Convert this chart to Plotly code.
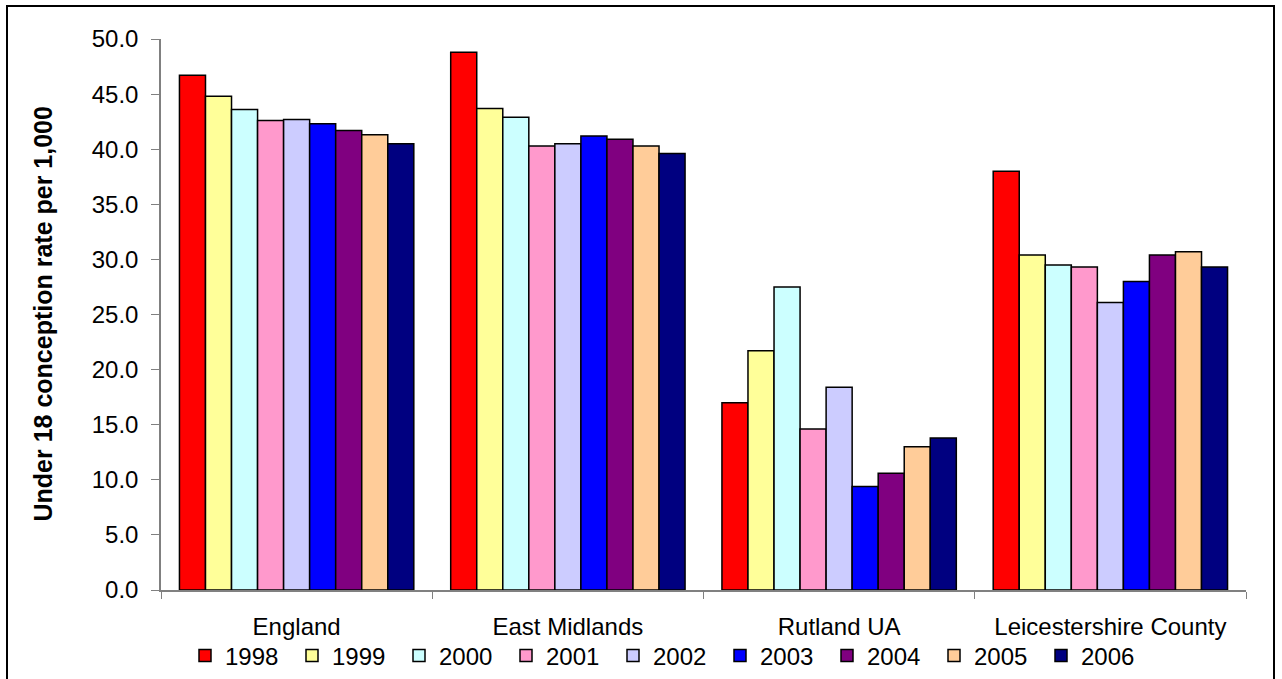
import plotly.graph_objects as go

categories = ["England", "East Midlands", "Rutland UA", "Leicestershire County"]
years = ["1998", "1999", "2000", "2001", "2002", "2003", "2004", "2005", "2006"]
rate_1998 = [46.7, 48.8, 17.0, 38.0]
rate_1999 = [44.8, 43.7, 21.7, 30.4]
rate_2000 = [43.6, 42.9, 27.5, 29.5]
rate_2001 = [42.6, 40.3, 14.6, 29.3]
rate_2002 = [42.7, 40.5, 18.4, 26.1]
rate_2003 = [42.3, 41.2, 9.4, 28.0]
rate_2004 = [41.7, 40.9, 10.6, 30.4]
rate_2005 = [41.3, 40.3, 13.0, 30.7]
rate_2006 = [40.5, 39.6, 13.8, 29.3]
series = [rate_1998, rate_1999, rate_2000, rate_2001, rate_2002,
          rate_2003, rate_2004, rate_2005, rate_2006]
colors = ["#FF0000", "#FFFF99", "#CCFFFF", "#FF99CC", "#CCCCFF",
          "#0000FF", "#800080", "#FFCC99", "#000080"]

FONT = "Liberation Sans, Arial, sans-serif"
W, H = 1282, 679
L, R, T, B = 161, 36, 39, 89
pw, ph = W - L - R, H - T - B

def px_x(x):
    return (x - L) / pw

def px_y(y):
    return (H - B - y) / ph

fig = go.Figure()
for yr, vals, c in zip(years, series, colors):
    fig.add_trace(go.Bar(
        x=categories, y=vals, name=yr,
        marker=dict(color=c, line=dict(color="#000000", width=1.5)),
    ))

fig.update_layout(
    width=W, height=H,
    margin=dict(l=L, r=R, t=T, b=B, autoexpand=False),
    paper_bgcolor="white", plot_bgcolor="white",
    barmode="group", bargap=0.136, bargroupgap=0,
    font=dict(family=FONT, size=24, color="#000000"),
    showlegend=True,
    legend=dict(
        orientation="h", x=px_x(185), xanchor="left",
        y=px_y(656), yanchor="middle",
        font=dict(family=FONT, size=24, color="#000000"),
        entrywidth=62, entrywidthmode="pixels",
        bgcolor="rgba(0,0,0,0)", traceorder="normal",
    ),
    xaxis=dict(
        showline=True, linecolor="#808080", linewidth=1.5,
        ticks="outside", tickson="boundaries", ticklen=7, tickcolor="#808080",
        tickfont=dict(family=FONT, size=24, color="#000000"),
        ticklabelstandoff=14, showgrid=False, zeroline=False,
    ),
    yaxis=dict(
        range=[0, 50], tickvals=[0, 5, 10, 15, 20, 25, 30, 35, 40, 45, 50],
        tickformat=".1f",
        showline=True, linecolor="#808080", linewidth=1.5,
        ticks="outside", ticklen=8, tickcolor="#808080",
        tickfont=dict(family=FONT, size=24, color="#000000"),
        ticklabelstandoff=8, showgrid=False, zeroline=False,
    ),
    annotations=[dict(
        text="<b>Under 18 conception rate per 1,000</b>",
        x=px_x(42), y=0.5, xref="paper", yref="paper",
        textangle=-90, showarrow=False, xanchor="center", yanchor="middle",
        font=dict(family=FONT, size=25, color="#000000"),
    )],
    shapes=[dict(
        type="rect", xref="paper", yref="paper",
        x0=px_x(7), x1=px_x(1274), y0=px_y(720), y1=px_y(6),
        line=dict(color="#000000", width=2), fillcolor="rgba(0,0,0,0)",
    )],
)

fig.write_html("out.html")
